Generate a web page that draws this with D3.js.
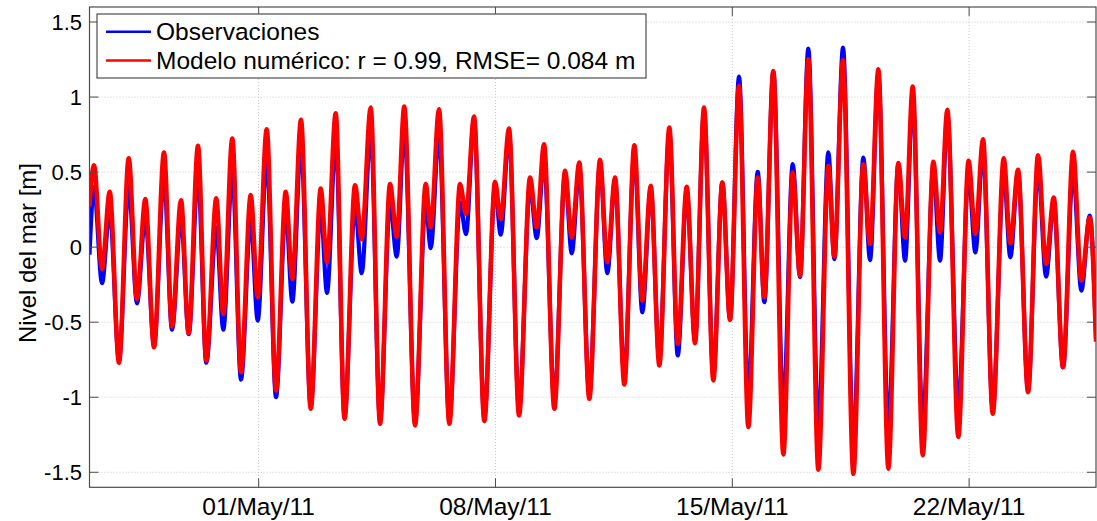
<!DOCTYPE html>
<html>
<head>
<meta charset="utf-8">
<script src="https://cdn.jsdelivr.net/npm/d3@7"></script>
<style>
  html, body { margin: 0; padding: 0; background: #fff; }
  svg { display: block; font-family: "Liberation Sans", Arial, Helvetica, sans-serif; }
</style>
</head>
<body>
<svg id="chart" width="1097" height="521"></svg>
<script>
// ---- Data ----
// Time of each extreme, in days after 26/Apr/2011 00:00 (UTC)
const tideTimes = [
  0.00, 0.133, 0.37, 0.597, 0.872, 1.159, 1.404, 1.649, 1.907, 2.202, 2.439,
  2.705, 2.932, 3.207, 3.453, 3.748, 3.955, 4.221, 4.478, 4.765, 4.972,
  5.238, 5.513, 5.80, 5.995, 6.252, 6.539, 6.834, 7.02, 7.278, 7.538,
  7.848, 8.046, 8.312, 8.587, 8.883, 9.081, 9.305, 9.622, 9.938, 10.086,
  10.331, 10.636, 10.952, 11.129, 11.366, 11.67, 11.987, 12.155, 12.40, 12.696,
  13.021, 13.219, 13.435, 13.739, 14.056, 14.254, 14.478, 14.774, 15.09, 15.306,
  15.534, 15.809, 16.104, 16.341, 16.589, 16.843, 17.139, 17.387, 17.653, 17.898,
  18.164, 18.439, 18.705, 18.933, 19.199, 19.474, 19.752, 19.947, 20.213, 20.509,
  20.786, 21.002, 21.247, 21.543, 21.839, 22.016, 22.273, 22.578, 22.873, 23.071,
  23.317, 23.612, 23.908, 24.106, 24.334, 24.629, 24.942, 25.14, 25.356, 25.681,
  25.983, 26.184, 26.411, 26.698, 27.023, 27.218, 27.446, 27.742, 28.037, 28.274,
  28.501, 28.776, 29.072, 29.317, 29.565, 29.75
];
// Observaciones (m)
const obsValues = [
  -0.05, 0.40, -0.24, 0.243, -0.75, 0.40, -0.374, 0.198, -0.65, 0.464, -0.55,
  0.198, -0.58, 0.48, -0.77, 0.13, -0.55, 0.50, -0.882, 0.183, -0.489,
  0.597, -0.999, 0.25, -0.363, 0.686, -1.06, 0.258, -0.305, 0.719, -1.12,
  0.28, -0.174, 0.775, -1.15, 0.298, -0.063, 0.79, -1.16, 0.298, -0.006,
  0.76, -1.15, 0.298, 0.087, 0.85, -1.13, 0.40, 0.083, 0.75, -1.08,
  0.41, 0.06, 0.58, -1.02, 0.48, -0.041, 0.52, -0.97, 0.55, -0.174,
  0.44, -0.86, 0.62, -0.434, 0.38, -0.75, 0.76, -0.722, 0.37, -0.62,
  0.90, -0.85, 0.43, -0.48, 1.136, -1.00, 0.502, -0.367, 1.17, -1.08,
  0.553, -0.20, 1.323, -1.21, 0.631, -0.08, 1.329, -1.33, 0.597, -0.086,
  1.15, -1.21, 0.55, -0.09, 1.00, -1.19, 0.52, -0.09, 0.88, -1.08,
  0.50, -0.035, 0.65, -1.08, 0.50, -0.068, 0.50, -0.95, 0.53, -0.196,
  0.30, -0.80, 0.509, -0.29, 0.21, -0.60
];
// Modelo numérico (m)
const modValues = [
  0.27, 0.546, -0.146, 0.369, -0.771, 0.593, -0.345, 0.32, -0.667, 0.631, -0.529,
  0.313, -0.574, 0.675, -0.755, 0.325, -0.445, 0.724, -0.833, 0.347, -0.334,
  0.786, -0.955, 0.369, -0.212, 0.848, -1.077, 0.391, -0.101, 0.892, -1.144,
  0.413, 0.054, 0.930, -1.177, 0.42, 0.07, 0.937, -1.188, 0.42, 0.132,
  0.919, -1.177, 0.42, 0.22, 0.870, -1.159, 0.436, 0.187, 0.79, -1.121,
  0.464, 0.132, 0.686, -1.077, 0.509, 0.065, 0.564, -1.011, 0.582, -0.101,
  0.464, -0.915, 0.679, -0.356, 0.409, -0.788, 0.797, -0.645, 0.402, -0.64,
  0.930, -0.888, 0.431, -0.485, 1.074, -1.199, 0.464, -0.334, 1.174, -1.381,
  0.498, -0.19, 1.252, -1.483, 0.542, -0.063, 1.245, -1.51, 0.553, 0.021,
  1.185, -1.476, 0.56, 0.065, 1.07, -1.387, 0.569, 0.098, 0.915, -1.265,
  0.575, 0.087, 0.719, -1.11, 0.593, 0.025, 0.516, -0.966, 0.613, -0.112,
  0.331, -0.80, 0.636, -0.223, 0.198, -0.63
];
const yTicks = [-1.5, -1, -0.5, 0, 0.5, 1, 1.5];
const xTickDates = ["2011-05-01", "2011-05-08", "2011-05-15", "2011-05-22"];
const seriesNames = ["Observaciones", "Modelo numérico: r = 0.99, RMSE= 0.084 m"];
const seriesColors = ["#0000ff", "#ff0000"];
const yLabel = "Nivel del mar [m]";

// ---- Layout ----
const svg = d3.select("#chart");
const L = 89.5, R = 1096, T = 7, B = 487.3;
const t0 = Date.UTC(2011, 3, 26, 0, 0);
const DAY = 86400000;
const x = d3.scaleUtc()
  .domain([new Date(t0), new Date(t0 + 29.75 * DAY)])
  .range([L, R]);
const y = d3.scaleLinear().domain([-1.6, 1.6]).range([B, T]);
const xTicks = xTickDates.map(s => new Date(s + "T00:00:00Z"));
const fmt = d3.utcFormat("%d/%b/%y");

// grid
const grid = svg.append("g");
grid.selectAll("line.gy").data(yTicks).join("line")
  .attr("x1", L).attr("x2", R)
  .attr("y1", d => y(d)).attr("y2", d => y(d))
  .attr("stroke", "#c8c8c8").attr("stroke-width", 1).attr("stroke-dasharray", "1,2");
grid.selectAll("line.gx").data(xTicks).join("line")
  .attr("x1", d => x(d)).attr("x2", d => x(d))
  .attr("y1", T).attr("y2", B)
  .attr("stroke", "#c8c8c8").attr("stroke-width", 1).attr("stroke-dasharray", "1,2");

// series
svg.append("defs").append("clipPath").attr("id", "clip")
  .append("rect").attr("x", L).attr("y", T).attr("width", R - L).attr("height", B - T);

const toPts = vals => tideTimes.map((t, i) => ({ d: new Date(t0 + t * DAY), v: vals[i] }));
const line = d3.line().x(p => x(p.d)).y(p => y(p.v)).curve(d3.curveMonotoneX);
const plot = svg.append("g").attr("clip-path", "url(#clip)");
plot.append("path").datum(toPts(obsValues)).attr("d", line)
  .attr("fill", "none").attr("stroke", seriesColors[0]).attr("stroke-width", 4.2)
  .attr("stroke-linejoin", "round");
plot.append("path").datum(toPts(modValues)).attr("d", line)
  .attr("fill", "none").attr("stroke", seriesColors[1]).attr("stroke-width", 4.5)
  .attr("stroke-linejoin", "round");

// axes (box with inward ticks)
const axisColor = "#4d4d4d";
const ax = svg.append("g");
ax.append("rect").attr("x", L).attr("y", T).attr("width", R - L).attr("height", B - T)
  .attr("fill", "none").attr("stroke", axisColor).attr("stroke-width", 1.2);
const tk = 9;
ax.selectAll("line.yl").data(yTicks).join("line")
  .attr("x1", L).attr("x2", L + tk).attr("y1", d => y(d)).attr("y2", d => y(d))
  .attr("stroke", axisColor);
ax.selectAll("line.yr").data(yTicks).join("line")
  .attr("x1", R - tk).attr("x2", R).attr("y1", d => y(d)).attr("y2", d => y(d))
  .attr("stroke", axisColor);
ax.selectAll("line.xb").data(xTicks).join("line")
  .attr("x1", d => x(d)).attr("x2", d => x(d)).attr("y1", B).attr("y2", B - tk)
  .attr("stroke", axisColor);
ax.selectAll("line.xt").data(xTicks).join("line")
  .attr("x1", d => x(d)).attr("x2", d => x(d)).attr("y1", T).attr("y2", T + tk)
  .attr("stroke", axisColor);

ax.selectAll("text.yt").data(yTicks).join("text")
  .attr("x", 82).attr("y", d => y(d)).attr("dy", "0.35em")
  .attr("text-anchor", "end").attr("font-size", 22).attr("fill", "#000")
  .text(d => String(d));
ax.selectAll("text.xt").data(xTicks).join("text")
  .attr("x", d => x(d)).attr("y", 515)
  .attr("text-anchor", "middle").attr("font-size", 24.5).attr("fill", "#000")
  .text(d => fmt(d));

svg.append("text")
  .attr("transform", "translate(36,253) rotate(-90)")
  .attr("text-anchor", "middle").attr("font-size", 24).attr("fill", "#000")
  .text(yLabel);

// legend
const lg = svg.append("g");
lg.append("rect").attr("x", 97).attr("y", 14).attr("width", 549).attr("height", 64)
  .attr("fill", "#fff").attr("stroke", axisColor).attr("stroke-width", 1.2);
const rows = [31.7, 60.5];
seriesNames.forEach((name, i) => {
  lg.append("line").attr("x1", 106).attr("x2", 151).attr("y1", rows[i]).attr("y2", rows[i])
    .attr("stroke", seriesColors[i]).attr("stroke-width", 2.5);
  lg.append("text").attr("x", 156).attr("y", rows[i]).attr("dy", "0.35em")
    .attr("font-size", 24.5).attr("fill", "#000").text(name);
});
</script>
</body>
</html>
